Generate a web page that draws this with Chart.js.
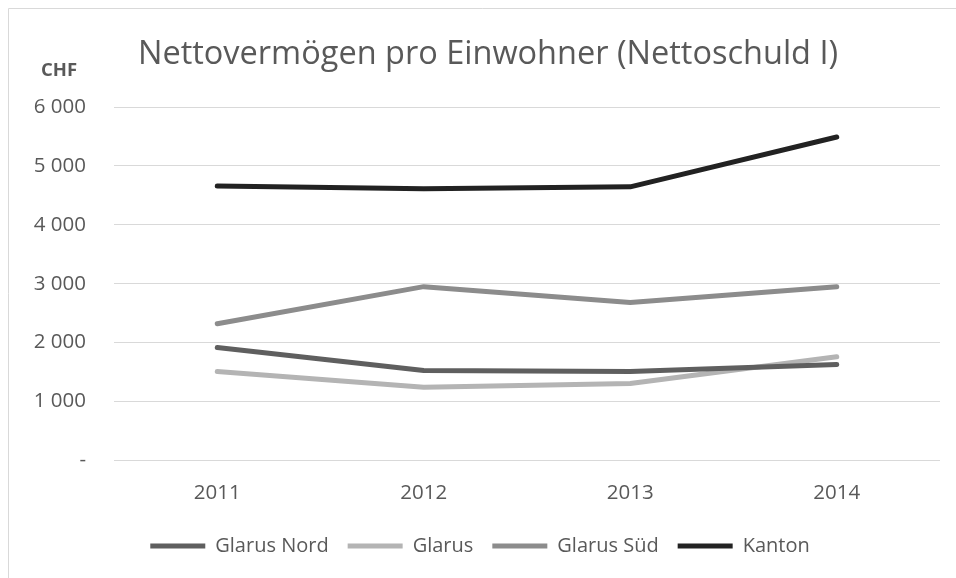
<!DOCTYPE html>
<html>
<head>
<meta charset="utf-8">
<script src="https://cdn.jsdelivr.net/npm/chart.js@4/dist/chart.umd.min.js"></script>
<style>
  html, body { margin: 0; padding: 0; background: #fff; }
  #wrap { width: 956px; height: 578px; }
</style>
</head>
<body>
<div id="wrap"><canvas id="chart" width="956" height="578"></canvas></div>
<script>
(function () {
    "use strict";

    var years = ['2011', '2012', '2013', '2014'];
    var glarusNord = [1915, 1525, 1510, 1630];
    var glarus = [1510, 1240, 1305, 1760];
    var glarusSued = [2320, 2950, 2680, 2950];
    var kanton = [4660, 4610, 4645, 5490];

    var titleText = 'Nettovermögen pro Einwohner (Nettoschuld I)';
    var unitText = 'CHF';
    var FONT = "'Open Sans', sans-serif";

    function line(label, values, color) {
        return {
            label: label, data: values, borderColor: color, backgroundColor: color,
            borderWidth: 5, borderCapStyle: 'round', borderJoinStyle: 'round',
            pointRadius: 0, tension: 0, fill: false
        };
    }

    // frame, title and unit label drawn behind the chart
    var decor = {
        id: 'decor',
        beforeDraw: function (chart) {
            var ctx = chart.ctx;
            ctx.save();
            ctx.strokeStyle = '#d9d9d9';
            ctx.lineWidth = 1;
            ctx.beginPath();
            ctx.moveTo(8.5, 578);
            ctx.lineTo(8.5, 8.5);
            ctx.lineTo(956, 8.5);
            ctx.stroke();
            ctx.fillStyle = '#595959';
            ctx.textBaseline = 'alphabetic';
            ctx.textAlign = 'center';
            ctx.font = '32.5px ' + FONT;
            ctx.fillText(titleText, 488, 64);
            ctx.font = 'bold 18.5px ' + FONT;
            ctx.fillText(unitText, 59, 76);
            ctx.restore();
        }
    };

    new Chart(document.getElementById('chart'), {
        type: 'line',
        data: {
            labels: years,
            datasets: [
                line('Glarus Nord', glarusNord, '#5f5f5f'),
                line('Glarus', glarus, '#b4b4b4'),
                line('Glarus Süd', glarusSued, '#8c8c8c'),
                line('Kanton', kanton, '#222222')
            ]
        },
        options: {
            responsive: false,
            animation: false,
            layout: { padding: { left: 20, right: 16, top: 107, bottom: 12 } },
            scales: {
                x: {
                    offset: true,
                    grid: { display: false },
                    border: { display: false },
                    ticks: { color: '#595959', font: { family: FONT, size: 20.5 }, padding: 12 }
                },
                y: {
                    min: 0, max: 6000,
                    afterFit: function (s) { s.width = 94; },
                    grid: { color: '#d9d9d9', lineWidth: 1, drawTicks: false },
                    border: { display: false },
                    ticks: {
                        stepSize: 1000, padding: 28, color: '#595959',
                        font: { family: FONT, size: 20.5 },
                        callback: function (v) {
                            if (v === 0) return '-';
                            return String(v).replace(/\B(?=(\d{3})+(?!\d))/g, ' ');
                        }
                    }
                }
            },
            plugins: {
                legend: {
                    position: 'bottom',
                    labels: {
                        usePointStyle: true, pointStyle: 'line', pointStyleWidth: 55,
                        color: '#595959', font: { family: FONT, size: 20 }, padding: 19
                    }
                },
                tooltip: { enabled: false }
            }
        },
        plugins: [decor]
    });
})();
</script>
</body>
</html>
